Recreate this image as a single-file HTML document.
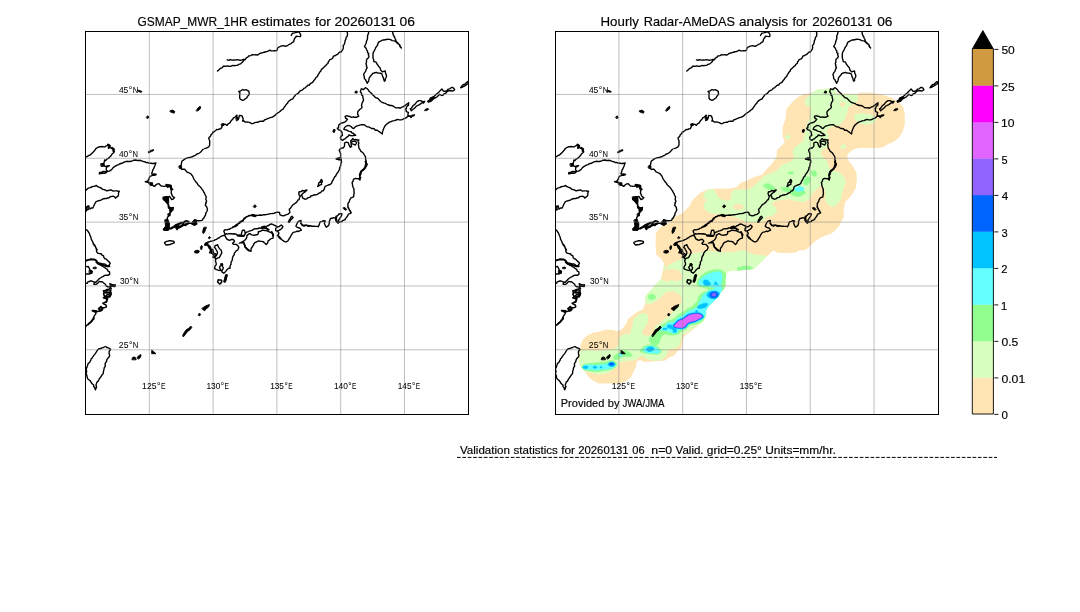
<!DOCTYPE html>
<html><head><meta charset="utf-8"><title>GSMAP validation</title>
<style>
html,body{margin:0;padding:0;background:#fff;}
body{width:1080px;height:612px;overflow:hidden;}
svg{display:block;}
text{font-family:"Liberation Sans",sans-serif;fill:#000;stroke:#000;stroke-width:0.16px;}
.tx{filter:grayscale(1);}
text.tk{stroke-width:0.05px;}
.coast path{stroke:#000;stroke-linejoin:round;stroke-linecap:round;}
</style></head><body>
<svg width="1080" height="612" viewBox="0 0 1080 612">
<rect width="1080" height="612" fill="#fff"/>
<defs><g id="coast" class="coast">
<path d="M137.5 90.6L138.9 91.7L140.9 92.3L142.1 91.7L140.7 90.9L138.6 90.3Z M333.4 131.5L333.7 130.0L334.6 129.4L334.9 130.4L334.3 132.0Z M336.2 158.4L338.4 158.0L341.1 158.7L341.1 160.0L338.4 159.8L336.9 159.3Z M343.3 207.8L345.1 207.6L346.7 209.6L346.0 210.3L344.2 209.4Z M252.2 214.4L254.9 214.7L256.7 215.8L255.3 216.8L252.8 216.2Z M253.4 206.2L254.9 204.7L256.4 206.2L254.9 207.8Z M220.8 263.7L222.4 263.4L223.0 265.0L221.6 265.8Z M203.8 227.6L202.7 231.0L203.0 233.6L204.5 232.4L205.6 229.5L206.4 227.6Z M208.4 237.6L209.6 236.5L210.7 237.6L209.6 238.7Z M194.9 251.0L197.1 250.2L199.2 250.8L199.0 252.4L197.1 253.2L195.0 252.8Z M200.8 249.1L200.4 247.3L201.6 245.4L202.3 246.1L202.1 248.4L201.4 249.6Z M204.5 244.7L205.6 242.8L207.5 242.4L208.2 243.9L206.7 245.4L205.1 245.6Z M146.4 117.2L147.6 115.8L149.0 117.0L147.8 118.6Z M170.3 110.7L172.7 110.1L174.8 111.5L174.1 113.2L172.1 112.5L170.6 112.0Z M196.4 110.3L198.2 107.7L200.2 106.3L200.7 108.0L199.0 110.1L197.0 111.1Z M148.4 151.8L150.8 150.4L153.5 149.6L153.7 150.6L151.4 151.6L149.0 152.8Z M236.1 117.8L238.1 117.2L238.5 119.6L236.7 120.8Z M221.3 124.1L223.7 123.4L224.6 124.9L222.5 126.1Z M332.9 131.4L333.7 129.3L335.1 129.7L334.5 132.0Z M179.2 166.0L180.8 165.3L181.9 166.9L181.0 168.7L179.4 168.2Z M163.2 198.0L168.6 198.0L168.7 202.9L166.8 203.3L165.0 200.7Z M170.3 208.2L173.4 207.3L172.6 210.4L170.8 211.3Z M168.1 213.8L170.3 213.6L170.2 215.8L168.4 215.8Z M165.0 219.8L167.7 218.9L169.6 223.8L169.3 228.7L167.7 230.4L164.3 230.2L163.2 229.1L165.4 226.4Z M192.1 222.0L194.3 219.8L196.1 220.7L197.0 223.8L194.8 225.6L192.6 224.7Z M101.0 163.6L104.1 163.4L104.4 166.0L101.4 166.4Z M149.0 182.7L152.6 182.7L152.7 185.3L150.8 185.6L149.2 184.4Z M163.2 196.9L168.1 196.4L168.6 201.3L165.4 201.8L163.7 200.0Z M169.4 207.6L173.0 207.6L172.6 210.7L170.3 211.6Z M89.4 270.3L92.4 271.0L92.0 273.3L89.6 273.3Z M93.3 267.6L95.4 267.0L96.7 267.9L95.4 268.8L93.5 268.6Z M85.4 369.4L86.6 369.8L86.9 372.4L85.6 372.8Z M132.0 359.4L132.4 357.7L133.9 356.9L135.5 357.6L136.1 359.4Z M137.2 357.7L138.3 356.1L140.6 354.5L141.1 355.4L140.2 357.7L138.7 358.9Z M152.0 350.3L156.0 353.7L152.0 353.7Z M202.0 308.4L205.4 306.1L209.4 304.5L208.9 306.5L206.3 309.1L204.6 310.7L202.8 309.5Z M182.8 335.0L184.3 332.4L186.1 329.8L188.7 328.3L190.8 326.0L191.8 327.4L190.0 329.8L187.4 331.7L185.5 334.3L183.5 336.7Z M198.5 314.4L199.4 313.1L200.6 314.3L199.7 315.9L198.7 315.5Z M424.6 110.3L425.7 109.0L428.0 108.4L428.7 109.3L426.9 110.4Z" fill="#000" stroke-width="0.90"/>
<path d="M217.5 71.1L218.2 70.4L219.8 68.9L220.9 68.2L222.4 67.7L223.3 66.1L225.7 66.3L227.5 65.8L229.0 66.3L230.5 66.4L232.9 65.4L233.9 65.7L236.5 65.4L237.6 65.3L238.8 64.3L240.6 63.8L241.8 62.8L242.8 61.8L243.8 60.2L245.3 59.5L246.3 57.9L247.8 57.2L248.6 56.0L250.7 55.6L252.5 54.6L254.2 54.9L255.5 54.8L257.8 55.0L258.8 54.3L259.7 53.4L261.7 53.0L262.5 52.6L264.4 52.3L265.5 51.7L267.1 51.6L268.5 50.9L269.9 50.1L271.1 50.9L273.5 50.9L274.5 50.6L275.8 50.9L277.2 50.0L277.6 48.5L277.6 48.0L279.4 46.8L280.9 46.2L283.3 45.6L285.0 46.2L286.8 46.0L288.3 45.0L289.7 44.2L290.8 43.8L292.5 42.3L293.6 41.7L294.1 39.8L294.8 38.2L295.8 37.2L296.1 36.1L298.0 36.4L300.4 36.6L300.7 35.4L300.5 34.3L299.1 32.0L297.1 32.1L296.4 32.4L294.4 32.9L292.5 33.2L291.2 35.5 M227.2 59.8L229.2 60.3L230.0 59.6L232.3 60.2L233.7 59.9L235.3 60.1L236.9 59.7L238.4 59.9L240.3 60.3L242.1 59.8L243.3 59.4L245.0 59.4 M238.8 91.5L240.7 90.8L242.7 89.5L244.0 90.2L246.0 89.7L247.8 90.6L248.9 91.4L249.0 92.3L249.3 94.1L248.3 95.5L247.5 96.4L246.7 98.0L245.4 98.7L244.4 99.6L242.8 100.4L241.6 99.8L240.2 99.1L239.7 97.9L239.7 95.8L239.7 94.2L240.0 92.9Z M287.7 102.7L288.6 101.4L289.9 100.4L290.8 99.7L292.8 98.8L293.8 97.1L294.8 96.0L295.7 94.6L296.9 94.2L298.6 92.9L299.8 91.2L300.8 90.6L302.6 89.9L304.1 88.2L305.3 87.8L306.6 86.4L307.8 85.3L309.4 85.1L310.2 83.6L311.7 82.8L312.9 82.1L313.7 80.7L315.0 79.3L315.8 77.8L317.6 76.2L317.7 75.4L318.7 73.9L319.6 72.3L320.9 71.0L321.2 69.8L322.2 68.7L323.1 68.1L324.2 66.9L326.0 65.5L326.4 64.5L327.9 63.5L328.3 62.0L329.2 60.7L329.9 59.6L331.9 58.8L332.9 57.8L333.5 56.1L335.5 55.5L336.5 54.8L338.1 53.8L339.3 52.4L341.0 51.7 M341.0 52.1L342.0 50.7L343.0 49.2L343.4 47.6L343.1 45.6L344.4 44.2L344.9 42.1L345.1 40.6L345.8 39.4L346.2 37.3L347.3 36.1L347.5 33.7L347.2 31.9L346.3 31.0 M368.5 31.0L368.6 33.1L368.1 34.3L367.4 36.5L367.6 38.3L367.0 39.9L366.4 41.5L366.3 42.8L365.4 44.8L364.4 46.5L365.9 48.0L366.8 50.1L367.5 51.0L367.5 52.6L368.8 53.5L368.3 54.7L369.0 56.3L368.5 57.7L367.0 59.0L366.4 60.4L366.6 61.8L366.0 63.8L366.6 65.4L366.3 66.2L367.2 67.6L366.3 69.1L365.6 71.3L364.2 73.2L363.6 74.6L364.2 76.3L364.4 78.7L365.5 79.5L366.1 80.9L367.2 83.3L368.2 81.7L368.7 80.7L368.9 79.8L369.2 77.9L370.3 76.5L371.3 75.2L372.0 74.6L372.6 73.4L374.1 73.0L376.2 72.3L377.4 73.0L378.8 73.1L380.6 73.3L381.9 73.9L382.2 74.7L382.7 76.7L383.4 77.9L383.9 80.0L384.4 81.3L385.4 80.3L385.2 79.0L386.0 77.5L386.5 76.5L386.3 74.7L385.6 73.5L385.2 70.9L383.8 71.3L382.4 71.9L381.9 71.4L380.5 69.7L380.1 67.9L379.1 66.8L378.0 65.3L377.0 64.0L376.0 62.0L373.9 61.6L373.6 59.4L373.0 57.9L373.0 55.9L373.0 54.0L373.3 52.4L374.5 50.4L375.3 48.8L375.6 47.7L376.7 46.4L377.7 44.6L378.0 43.2L379.1 41.8L381.1 40.8L382.6 40.0L384.0 40.0L385.1 39.7L387.6 39.3L389.3 39.4L390.6 39.7L392.2 40.6L394.8 40.9L395.9 41.7L397.0 42.9L398.3 44.0L399.5 44.7L399.9 46.5L401.3 47.9L400.2 46.4L399.9 45.1L399.2 44.4L397.8 43.1L396.0 41.3L395.7 39.7L395.0 38.5L394.3 36.5L393.5 35.5L393.0 34.0L392.7 32.3L392.6 31.0 M365.4 87.6L367.0 88.5L368.3 89.9L369.0 91.2L370.2 92.3L371.4 93.2L372.9 95.0L373.8 95.7L375.4 97.5L376.5 97.9L378.0 98.5L379.0 99.6L379.5 100.3L381.1 101.8L382.5 102.5L384.3 103.2L385.7 103.5L386.8 104.3L388.8 105.0L390.0 105.5L391.6 105.5L393.4 106.2L394.1 106.7L395.5 107.7L396.9 107.9L398.9 107.7L400.1 108.3L401.7 107.2L403.4 106.6L405.3 105.4L406.8 104.1L407.7 103.6L408.7 102.8L408.5 105.1L407.5 105.9L406.5 107.1L406.4 108.4L405.8 108.9L406.3 111.5L407.1 112.0L408.4 112.3L407.8 115.1L409.7 116.0L411.4 116.0L412.6 115.1L414.5 115.0L413.6 115.8L412.0 116.2L410.9 117.5L410.1 116.4L407.9 116.2L406.6 117.4L405.6 118.2L403.6 118.8L402.5 119.4L401.5 119.9L399.3 119.9L397.7 119.4L396.1 120.0L394.6 120.6L392.7 120.9L391.0 121.7L389.8 121.9L388.7 122.7L387.6 123.4L386.0 124.8L384.8 126.3L383.8 128.3L383.4 129.2L383.1 130.3L382.5 131.7L382.3 134.0L380.7 132.8L379.2 131.6L378.2 131.0L377.4 130.1L375.3 130.3L374.5 129.0L373.1 128.4L371.8 128.7L370.6 127.8L368.6 126.9L367.0 126.7L365.9 126.0L364.2 124.7L363.2 124.7L361.9 124.7L360.5 124.9L358.2 125.6L356.5 126.0L355.1 127.0L354.2 128.1L353.7 128.6L352.2 127.8L351.1 126.5L349.3 125.6L347.9 125.4L347.0 125.9L346.1 126.2L344.8 127.2L343.8 129.3L345.5 129.8L346.7 130.0L347.5 130.7L349.2 131.4L351.3 131.7L351.9 133.1L353.3 133.3L353.9 133.9L355.7 135.2L353.5 135.5L352.7 135.7L350.5 135.5L348.8 134.9L348.4 136.1L346.9 137.1L345.9 138.1L345.4 138.6L343.8 139.4L342.7 140.3L340.9 139.3L340.3 137.5L341.4 136.0L342.5 135.3L342.2 133.9L342.0 132.3L340.9 130.9L339.7 130.2L338.2 129.6L337.3 128.2L338.6 127.8L338.5 126.2L338.9 124.9L339.9 124.1L341.3 123.1L343.6 122.5L345.2 121.8L346.6 120.4L347.4 119.3L345.6 118.2L345.1 116.3L346.9 115.7L348.4 116.3L350.0 116.5L351.4 117.3L353.4 116.8L354.5 117.3L356.3 117.3L357.2 116.8L358.7 116.1L357.7 114.2L357.7 111.9L358.8 110.4L359.7 109.5L361.5 108.2L362.1 107.0L361.5 105.2L362.0 103.6L362.4 102.3L363.5 100.7L363.4 99.3L362.9 97.4L362.8 96.0L361.6 94.9L361.6 93.5L360.3 91.6L360.7 90.7L361.3 88.8L363.7 89.5Z M355.1 92.5L356.1 91.2L357.1 91.8L356.8 92.8Z M333.1 179.8L333.9 178.4L334.7 176.8L335.6 176.1L336.4 174.3L337.1 173.3L337.8 172.6L339.0 170.3L339.5 169.4L339.7 167.6L340.4 166.3L340.8 165.0L340.8 163.6L341.5 162.2L341.2 159.8L338.4 159.6L338.0 159.2L336.3 159.1L337.5 158.5L338.8 157.8L340.9 158.3L340.5 156.3L340.6 154.6L340.7 153.8L339.9 152.0L339.2 150.1L339.8 149.4L340.8 148.3L342.2 147.9L343.0 148.1L344.4 146.4L344.6 144.9L344.5 143.0L346.2 142.1L348.2 142.6L349.2 145.4L350.2 147.3L351.6 146.4L351.1 145.3L351.2 143.6L353.2 144.2L355.4 145.0L356.6 143.0L355.5 141.1L354.6 141.4L352.8 141.2L350.9 142.9L350.8 140.6L351.9 139.8L352.7 138.6L354.2 139.8L355.7 139.4L357.1 140.0L358.9 139.9L358.1 141.5L358.9 143.1L358.4 144.6L358.7 146.4L359.1 148.6L360.0 149.5L360.8 151.3L361.7 151.8L363.4 153.3L364.4 155.0L365.4 156.6L365.7 158.4L365.6 159.7L366.2 161.0L366.0 162.8L367.1 164.6L366.7 165.6L365.7 167.0L364.5 169.0L363.1 169.9L361.8 170.8L360.8 171.9L360.9 174.1L359.7 175.6L359.8 176.9L359.4 178.6L360.7 177.3L360.1 179.0L359.9 180.0L358.5 178.8L357.4 178.6L355.4 178.4L354.3 178.7L353.3 179.7L353.1 181.2L352.0 182.6L352.5 184.0L352.5 185.5L353.2 187.5L354.0 189.1L353.9 190.6L354.1 192.3L354.1 193.5L353.7 195.5L353.6 196.9L351.6 197.6L351.2 197.6L349.8 199.6L349.3 201.7L348.5 202.6L347.9 203.9L348.0 205.9L347.7 207.1L348.6 207.9L349.0 209.3L350.0 210.8L350.0 211.3L351.3 212.7 M278.0 235.6L279.1 237.7L280.7 239.0L281.5 239.5L283.2 240.6L284.1 241.4L285.3 241.9L286.2 241.9L287.8 241.0L288.2 240.3L289.4 238.3L290.3 237.3L290.8 236.0L291.7 234.4L293.2 232.4L295.5 231.8L297.0 231.1L298.1 231.5L299.6 230.8L301.4 230.2L299.9 228.2L299.3 228.0L297.4 227.4L295.9 226.3L296.7 224.2L297.5 222.7L298.2 221.7L299.7 220.8L301.0 220.4L300.9 222.5L301.0 223.7L302.4 225.6L304.4 225.2L306.1 225.2L308.0 226.0L308.7 225.4L310.8 225.9L311.6 226.2L314.0 226.1L315.3 226.4L317.7 226.4L318.2 226.8L319.2 224.9L319.6 223.3L320.2 221.8L322.3 221.3L323.0 220.8L325.3 221.0L324.6 222.2L324.4 223.5L325.4 225.8L326.3 227.2L328.7 225.4L329.3 223.3L329.2 222.2L329.5 221.0L329.9 220.0L330.5 218.5L332.3 218.3L333.4 217.7L335.8 218.3L335.9 220.5L337.0 221.3L336.6 219.6L336.4 218.8L336.6 217.0L337.2 215.8L338.1 215.2L338.9 214.0L340.5 213.7L341.8 213.7L341.8 214.9L341.3 216.1L339.8 218.4L338.9 219.7L338.7 220.5L338.3 222.6L340.4 221.9L342.1 221.5L342.4 220.6L345.4 219.7L345.2 218.9L346.1 217.9L347.4 216.3L348.4 214.1L349.9 213.6L351.0 212.9L350.3 210.7L349.6 210.3L349.1 209.0L348.4 208.1L348.1 206.4 M288.4 222.2L289.5 219.5L290.3 218.6L291.1 216.8L292.0 216.3L293.2 217.6L291.5 219.3L290.5 220.3L289.2 222.4Z M234.0 226.4L234.9 225.8L236.2 224.7L237.5 224.2L238.6 223.2L239.6 222.0L241.1 221.1L242.2 220.5L243.4 219.7L244.0 218.2L245.5 217.6L246.2 216.8L248.1 216.4L248.9 215.4L250.0 215.5L251.7 215.4L253.4 215.5L254.9 215.9L256.6 215.3L257.8 215.4L260.2 215.0L261.7 215.3L263.0 214.8L265.3 214.8L266.8 214.4L268.3 214.2L270.5 213.6L272.1 213.6L274.3 213.2L275.4 212.6L277.2 212.3L279.5 212.4L280.0 214.8L281.5 215.4L282.7 215.9L284.7 215.5L285.7 214.9L287.7 214.4L289.0 213.3L289.9 212.5L289.7 211.3L289.2 209.4L290.5 208.3L290.6 207.8L292.3 205.6L293.6 204.3L294.6 203.8L296.4 202.4L297.1 201.5L298.0 200.0L299.1 199.6L299.5 197.7L300.3 196.2L299.3 195.4L298.8 193.7L299.0 192.0L301.3 191.5L302.3 190.5L304.1 191.0L305.3 190.5L306.9 190.0L305.5 191.6L303.4 193.0L302.6 193.8L301.2 195.2L302.3 196.3L302.7 198.1L304.4 198.9L305.0 199.3L306.5 198.9L308.2 197.6L309.9 197.4L310.9 196.0L312.6 195.5L314.0 195.0L315.9 194.8L317.2 194.3L319.6 192.9L320.8 192.5L321.7 191.0L323.1 190.8L324.1 189.5L324.4 188.2L325.2 186.3L326.9 185.7L328.2 185.0L330.2 184.5L331.9 182.8L332.0 181.6L333.1 180.0 M317.7 186.2L318.6 184.4L318.6 183.2L320.1 181.8L320.7 180.4L321.4 179.4L322.1 180.4L322.4 181.8L321.4 182.7L321.6 184.4L319.8 185.2L318.0 186.5Z M318.9 182.9L321.1 181.7L321.6 183.8 M225.3 236.2L226.0 237.6L226.6 238.9L227.5 239.5L228.7 240.0L230.2 240.2L231.3 239.5L233.2 239.4L234.5 241.2L234.0 242.0L232.6 243.3L233.5 244.4L235.3 244.4L236.6 244.5L238.3 246.3L238.8 247.6L237.8 250.0L236.1 250.9L235.4 252.0L234.2 253.4L234.2 254.8L233.1 256.2L232.4 258.0L232.4 260.1L231.6 261.2L231.0 262.6L231.1 264.3L230.2 265.4L230.0 268.2L228.7 268.3L227.2 269.5L225.7 271.4L223.8 273.2L221.9 272.0L222.2 270.1L223.0 269.0L223.3 267.7L222.5 266.2L222.2 264.2L220.5 265.7L219.4 267.6L220.2 268.8L221.2 270.6L218.3 270.2L216.4 269.6L214.6 268.7L215.0 266.1L216.2 264.8L216.2 263.9L216.1 262.8L215.4 261.3L215.8 259.4L214.6 257.4L212.9 257.2L213.5 256.0L213.5 255.0L211.6 252.9L209.6 252.9L210.7 250.4L210.1 248.9L209.0 248.0L208.4 246.8L208.2 245.4L206.2 244.2L204.8 244.2L205.7 243.5L206.8 242.6L208.5 242.0L210.4 241.3L212.5 240.9L214.3 240.3L215.4 239.6L216.4 239.3L217.5 238.7L219.7 237.3L221.1 236.3L222.8 235.6L224.4 235.3Z M215.3 245.4L216.7 245.2L217.6 244.7L218.3 246.7L219.0 247.9L219.8 248.9L221.0 250.1L221.5 251.3L221.8 252.8L220.5 255.4L220.1 256.1L219.2 257.7L217.8 258.0L217.4 258.1L215.6 259.1 M215.3 245.4L214.4 247.6L215.4 248.1L216.0 249.6L216.7 250.6L217.6 252.3L217.0 254.7L214.9 255.9L213.8 256.9 M210.4 250.6L212.1 249.2L213.1 250.3L213.7 252.7L213.0 253.9 M213.4 254.7L215.4 253.7L216.8 254.8L215.2 257.2L214.1 257.6 M234.9 226.5L233.4 227.1L231.5 228.1L230.6 228.3L229.6 229.2L228.5 229.3L226.8 229.9L225.0 229.7L223.8 230.9L224.6 233.2L225.1 234.3L224.9 235.4 M232.7 227.0L234.2 226.8L236.4 226.0L237.4 225.2L237.8 224.2L239.1 223.5L240.4 222.5L241.6 221.6L243.0 221.1L243.6 219.8L245.2 218.3L245.7 217.3L247.6 216.5L248.4 215.9L249.8 215.8L251.0 215.3L252.7 215.0 M225.0 235.0L226.2 233.6L227.4 234.1L229.0 233.7L230.1 233.7L231.4 233.6L232.8 234.0L233.8 233.8L236.2 234.3L238.1 235.8L239.3 235.2L240.0 235.7L241.9 236.0L244.0 235.7L245.1 234.4L245.0 232.4L244.4 230.3L242.6 230.1L242.0 231.3L241.5 233.6L241.0 235.7 M245.3 233.3L246.1 232.6L247.1 231.9L248.6 231.6L249.4 230.9L250.9 230.7L252.5 230.2L253.9 228.9L255.9 228.7L257.9 228.7L259.3 227.8L260.9 228.3L262.1 226.8L263.1 226.9L264.3 226.1L266.1 227.1L267.1 225.8L268.4 225.6L269.8 224.6L270.5 224.2L271.9 224.0L273.6 224.9L274.1 225.2L276.2 226.0L277.6 227.0L279.3 226.4L281.3 225.0L282.9 226.5L282.1 228.1L281.1 229.1L279.5 230.1L279.0 230.4L276.4 231.0L277.8 231.3L278.9 233.1L278.5 234.7L277.3 235.3L279.6 236.8L280.7 238.4L281.3 239.0 M276.7 231.0L275.6 230.3L275.9 228.1L277.7 227.0 M239.2 243.1L240.2 243.0L241.7 242.0L243.5 241.1L244.8 240.2L245.9 239.1L246.8 237.3L247.0 235.4L248.4 234.4L249.1 233.8L250.3 233.6L251.1 234.7L252.6 235.1L254.9 235.2L255.8 234.8L257.3 234.7L258.3 233.6L258.3 231.8L259.9 231.5L260.7 231.1L262.6 230.2L263.3 230.2L264.7 230.5L266.0 230.6L266.9 230.7L268.6 231.7L269.9 232.1L271.4 232.7L272.5 233.8L272.6 234.8L273.1 236.7L273.0 238.2L271.0 238.7L269.7 239.6L269.1 240.3L268.1 240.9L267.5 243.2L266.1 244.5L265.5 243.8L264.3 242.8L263.4 241.8L261.4 241.4L260.1 241.2L258.8 240.9L257.6 241.4L256.6 241.9L255.1 242.5L253.9 243.7L253.6 244.9L252.4 246.7L251.6 247.7L251.0 249.2L251.0 251.4L249.1 250.7L247.9 249.9L247.2 249.6L246.3 247.7L245.3 247.4L244.8 245.7L244.3 244.0L244.1 242.6L241.3 242.7L240.6 242.9Z M85.0 157.3L85.8 156.8L87.2 156.6L89.0 155.3L89.9 155.4L91.2 154.0L92.8 152.4L94.2 151.1L95.1 149.8L96.0 148.5L97.4 147.7L99.2 146.8L100.3 146.7L102.1 146.5L103.7 146.9L104.9 146.9L106.4 145.8L108.6 145.3L109.3 147.2L110.9 148.0L113.0 148.8L113.4 150.0L114.5 151.8L113.2 153.1L111.9 154.3L110.9 155.9L110.6 156.1L109.5 157.4L108.3 158.4L106.8 159.1L105.7 160.5 M287.7 103.0L286.9 103.8L285.5 105.4L284.9 106.5L284.1 107.4L283.4 108.8L281.5 110.0L280.7 110.9L279.3 112.0L277.4 113.2L276.0 114.3L274.9 115.4L273.5 116.5L272.0 117.2L270.3 117.6L269.0 118.2L267.0 118.9L266.1 119.3L264.3 120.0L263.5 121.3L261.7 121.3L259.4 121.4L258.2 122.2L256.5 122.3L254.7 122.7L253.3 123.4L251.9 123.8L250.9 123.1L250.0 122.6L248.2 122.1L247.1 122.0L245.0 122.1L244.0 121.0L242.6 121.1L243.0 120.0L243.2 118.6L242.5 117.4L242.3 116.2L241.5 115.8L239.3 115.4L239.1 116.8L238.7 118.4L237.9 119.7L237.2 118.2L236.7 116.9L237.0 115.1L235.1 117.1L233.7 117.6L232.6 119.3L231.4 120.4L230.6 121.6L229.9 122.9L228.1 123.8L227.1 125.3L225.7 124.4L224.4 124.2L222.8 124.5L222.1 125.4L221.9 126.9L221.0 128.6L219.4 129.0L218.0 129.6L216.7 129.5L215.5 130.7L214.6 131.3L213.0 132.6 M213.0 132.0L212.4 133.5L211.0 134.8L210.3 136.6L209.4 137.1L208.7 138.2L209.6 140.5L209.8 141.8L209.6 143.7L209.7 145.0L209.0 146.5L208.2 147.2L206.4 148.1L204.7 148.6 M203.2 149.3L201.9 150.6L201.0 151.8L200.1 152.5L198.3 153.7L196.9 154.0L195.4 155.3L193.8 155.9L192.5 156.8L191.0 157.1L189.5 157.5L188.2 157.6L186.2 158.3L184.7 159.0L183.4 160.2L182.0 161.0L181.5 163.1L181.2 165.2L180.0 166.2L181.0 167.9L181.8 169.5L182.8 169.2L184.6 169.1L185.9 170.7L187.0 172.2L188.4 172.5L190.0 173.3L191.0 173.9L191.7 175.1L192.6 175.9L193.2 177.5L194.0 179.3L195.4 181.1L195.7 181.7L197.2 183.3L197.7 184.6L198.4 185.3L199.2 186.0L200.7 187.3L201.8 188.9L202.3 189.7L203.1 190.6L204.0 192.5L204.9 193.8L205.1 195.0L206.3 196.9L205.8 199.2L206.6 201.0L206.4 201.7L205.7 203.3 M205.7 203.3L206.1 201.9L206.1 202.9L205.3 205.3L206.5 206.4L207.1 208.1L207.5 209.6L206.8 211.5L205.7 213.3L205.6 215.0L204.9 215.9L204.0 217.9L203.0 218.5L202.6 219.8L201.9 220.4L199.3 220.7L198.2 220.8L196.0 220.1L194.4 219.7L196.4 221.1L196.4 222.2L196.6 224.2L194.2 224.5L193.2 224.3L191.3 223.5L190.4 223.2L189.0 223.1L187.5 223.6L185.6 224.1L184.6 224.9L183.2 225.6L181.8 226.1L180.6 226.9L179.5 227.7L177.9 227.3L177.3 225.9L175.8 226.5L175.1 226.5L173.5 227.1L172.0 227.9L171.0 228.8L169.5 228.5L167.9 230.3L165.9 229.8L165.2 230.1L163.4 229.9L164.8 228.3L166.2 227.3L166.6 226.0L167.5 224.4L167.4 222.5L166.8 220.7L167.3 219.1L167.5 217.1L168.4 216.5L169.3 214.6L169.4 213.1L170.0 212.3L170.7 210.6L171.3 209.2L170.3 208.4L169.5 206.9L168.4 205.3L167.4 203.5L166.8 202.1L165.7 200.1L164.6 198.9 M174.3 242.1L174.1 242.9L172.6 243.5L171.4 243.9L170.0 244.5L168.2 244.7L166.2 245.0L165.2 243.9L164.7 243.3L164.5 242.5L165.7 241.8L166.8 241.3L168.8 240.8L170.8 240.7L172.7 241.1L173.6 241.2Z M104.6 160.0L104.5 161.2L103.8 163.2L103.1 164.4L102.6 165.2L104.0 165.9L105.9 166.5L107.5 166.0L109.4 165.7L108.0 166.6L106.5 167.2L106.2 170.0L107.8 171.3L106.5 171.6L104.6 171.5L103.3 171.4L101.8 172.2L99.6 172.5L99.3 173.8L101.0 173.5L102.5 173.3L104.4 173.2L105.6 173.1L106.8 172.0L107.7 171.4L109.4 171.1L111.2 169.9L112.0 169.2L113.1 167.7L114.1 166.9L116.2 165.7L117.1 165.2L118.7 164.6L119.9 163.7L122.0 163.3L122.8 162.9L125.2 161.7L126.9 161.3L128.0 161.5L130.0 161.5L131.1 161.3L132.8 160.7L133.8 160.2L135.7 160.0L137.5 160.5L138.5 160.5L140.4 160.3L141.6 160.8L143.6 161.6L144.9 161.8L146.1 162.6L147.4 162.5L149.2 163.1L150.8 163.2L152.4 163.5L153.5 163.5L155.9 162.9L155.2 164.5L155.0 165.4L154.1 167.5L153.5 169.0L152.8 169.9L152.5 171.3L151.6 173.9L152.8 174.1L154.5 173.9L156.2 174.5L154.4 175.3L152.8 175.1L151.4 175.8L150.3 176.1L149.4 177.5L148.9 179.2L148.0 180.7L147.2 181.2L145.3 181.7L147.7 182.2L148.7 182.1L150.2 183.1L150.6 183.7L152.1 185.0L154.3 186.4L155.4 185.7L156.0 184.6L157.6 183.9L159.0 183.8L159.7 184.5L161.2 186.1L162.6 186.1L163.8 186.4L165.1 186.2L166.6 185.8L167.4 187.3L168.8 186.6L170.4 186.7L170.7 188.1L172.8 189.3L171.5 190.3L171.2 192.2L171.3 193.4L172.6 196.2L173.6 197.2L174.5 197.6L173.5 198.8L171.7 199.5L170.4 197.6L169.6 196.5L167.5 197.3L166.2 196.7L165.1 197.6L163.4 199.5L165.4 200.0L166.6 202.1L167.0 203.1L168.6 204.1L168.2 206.4L168.6 208.0L170.2 208.1L171.8 208.6L173.1 207.6L172.8 209.9L171.8 210.7L170.9 212.1L169.9 213.3 M85.9 190.2L87.2 189.1L88.1 188.2L90.2 187.6L91.5 187.0L93.3 186.4L94.6 186.4L96.4 185.4L97.7 186.7L99.5 187.4L101.1 188.0L102.4 189.3L104.0 189.6L105.3 190.0L106.7 190.9L108.2 190.5L109.3 190.3L110.9 189.8L111.9 190.4L113.3 191.1L114.9 190.9L116.6 190.9L118.3 191.2L119.3 191.3L118.5 193.0L118.5 194.5L118.3 195.9L117.4 196.5L115.4 198.1L115.0 197.2L113.0 196.2L112.1 196.4L110.1 196.8L109.2 197.7L107.6 198.0L106.3 198.6L105.0 198.5L102.7 199.0L101.0 200.1L99.5 200.5L97.3 201.2L95.9 201.8L95.4 202.7L94.3 204.8L93.7 206.3L92.9 208.0L91.2 208.0L90.1 208.9L89.2 207.6L88.7 206.4L87.8 206.8L86.2 207.8L86.4 208.6L86.5 210.2L85.7 211.7 M86.2 207.1L87.4 206.2L88.9 205.8L89.0 207.6L89.4 208.1L88.6 209.1L87.5 209.8L86.9 208.5Z M85.4 229.8L86.9 230.0L87.7 230.8L88.4 232.0L89.5 233.6L89.9 235.3L90.9 237.2L91.2 239.1L92.1 240.8L93.2 243.1L93.6 243.9L94.3 245.6L95.4 246.4L95.8 247.6L97.2 249.8 M93.1 244.0L94.4 244.7L95.4 246.4L95.7 247.6L96.4 248.9L96.6 251.7L97.7 253.1L99.3 253.5L101.2 253.8L101.7 254.9L103.6 255.8L103.8 257.4L105.0 258.8L106.0 258.9L106.9 259.8L108.1 261.1L109.4 262.1L110.2 263.3L108.7 265.7L106.8 265.5L105.6 264.4L104.2 263.9L102.4 263.9L100.9 263.3L99.4 263.2L98.0 262.5 M96.1 262.1L97.4 263.1L99.3 264.4L100.4 265.0L101.9 265.9L103.6 267.0L105.0 267.7L105.5 268.2L107.6 269.6L107.8 271.0L109.5 271.9L109.7 274.1L108.4 275.2L106.3 275.3L104.6 275.4L103.3 276.4L102.2 276.8L101.2 277.5L100.0 278.2L98.7 279.3L97.8 280.3L95.9 282.2L94.5 282.0L93.1 281.6L91.3 280.8L90.5 281.0L88.7 281.6L87.9 281.9L87.3 283.3L85.4 283.3 M96.1 281.8L94.3 282.5L93.9 284.3L95.7 284.4L96.4 284.1L97.7 283.3L98.5 282.2L99.6 281.4L100.7 281.8L102.2 281.8L104.7 283.7L105.4 284.2L106.0 285.8L107.7 286.9L109.0 286.7L110.6 287.4L111.3 288.8 M109.9 283.6L112.4 284.8L114.0 285.0L115.2 284.8L115.0 286.5L112.5 286.2L110.4 285.8Z M85.4 266.2L87.0 266.7L88.3 266.5L89.4 268.6L89.9 269.6L90.8 270.6L92.1 271.6L91.6 273.2L89.2 274.0L86.6 274.0L85.4 274.2 M110.9 286.7L110.4 287.4L109.7 288.8L107.9 289.5L107.2 290.9L106.2 291.8L104.3 292.6L106.1 292.7L108.3 292.6L110.4 292.4L110.0 294.5L110.3 295.4L108.9 296.1L107.8 296.7L106.9 296.3L104.9 296.2L104.4 297.9L106.1 298.8L107.0 298.9L106.6 301.0L104.8 302.7L102.7 303.2L104.0 304.1L106.0 305.0L106.5 306.4L106.4 307.0L104.6 307.7L102.5 307.7L101.7 309.6L99.8 310.8L97.5 311.7L96.3 310.9L94.8 310.9L92.9 311.1L94.6 311.9L96.0 312.5L95.8 313.9L95.0 314.9L93.7 316.9L94.1 318.8L91.6 320.4L90.7 322.2L89.3 322.9L88.1 324.4L86.2 325.8L85.4 327.4 M105.4 346.5L106.2 346.9L106.9 347.5L108.2 347.8L109.5 348.3L110.6 349.5L109.2 351.2L109.1 353.7L109.7 355.5L109.1 356.9L108.8 357.3L107.4 358.7L106.6 360.4L106.7 361.1L105.4 363.2L105.0 364.1L105.4 365.9L104.2 367.8L104.0 369.3L103.4 371.6L103.2 373.6L101.8 375.2L101.1 376.5L99.9 378.1L99.1 379.2L98.2 381.1L97.0 382.0L96.3 384.1L96.0 385.0L96.6 387.0L96.1 387.9L95.3 389.9L94.7 387.3L93.7 386.7L93.7 385.0L92.1 383.8L90.9 382.0L90.4 381.1L89.5 380.3L87.9 378.9L87.4 378.0L87.0 376.0L86.5 374.4L85.9 372.4L86.3 370.9L86.0 369.5L86.9 367.2L87.4 366.0L88.2 363.4L89.4 362.7L90.2 361.2L91.0 359.8L91.1 358.8L92.0 358.2L92.8 356.8L94.0 355.1L95.4 353.6L95.7 353.0L96.7 351.3L97.2 350.5L98.1 349.3L99.2 348.7L100.5 348.5L102.0 347.9L103.4 347.5Z M428.8 101.1L429.6 100.1L430.3 98.2L432.1 97.3L433.4 97.1L435.3 95.3L436.1 94.3L438.3 92.8L439.2 91.6L440.4 90.5L441.8 88.9L443.4 91.0L445.3 91.4L446.9 90.6L448.1 89.2L449.9 88.8L451.4 87.5L452.4 87.4L453.6 88.1L454.6 89.7L452.8 91.0L451.1 90.8L449.5 90.7L448.1 91.0L447.2 91.6L445.7 93.2L443.5 94.1L443.2 95.1L441.7 95.5L439.6 94.3L438.4 95.5L437.1 96.7L435.7 97.7L433.9 98.5L432.4 99.8L431.6 100.9L430.1 101.5L428.5 101.8Z M410.2 108.8L411.2 108.4L411.9 107.4L413.2 105.5L414.5 104.7L415.6 103.4L417.1 101.6L418.1 101.0L419.0 100.6L420.7 100.6L422.1 101.5L423.6 101.8L424.7 101.3L423.5 103.1L422.0 102.7L420.8 103.6L419.6 104.6L418.4 105.1L416.6 106.0L415.4 107.3L414.2 108.5L412.8 109.4L411.3 110.7Z M460.7 87.8L461.4 86.6L463.4 84.5L464.9 84.1L465.8 83.1L467.8 81.5L468.5 83.6L467.4 84.1L466.1 84.9L464.6 86.0L463.1 86.6L462.7 87.1L461.2 87.6Z" fill="none" stroke-width="1.38"/>
<path d="M365.6 161.6L366.0 163.0L366.6 163.9L365.5 165.5L365.2 167.3L364.4 168.5L363.1 169.9L361.7 170.9L360.6 172.6L360.0 174.1L359.8 175.3 M208.2 245.4L209.4 246.2L210.3 247.3L210.5 248.7L211.5 250.7L211.9 252.8 M85.4 260.9L86.2 260.5L87.7 260.1L89.6 259.6L90.8 259.3L93.2 259.5L94.5 259.5L95.9 260.4L96.8 261.3L97.7 263.3L99.0 264.0L100.8 264.6L102.6 264.7L103.9 265.5L105.4 265.9L107.0 266.3L109.4 266.2 M98.8 308.6L100.0 308.0L100.8 306.7L102.4 308.5L102.4 309.2L101.7 310.2L100.0 310.7Z" fill="none" stroke-width="1.98"/>
<path d="M301.1 223.4L302.5 225.0L304.1 226.1L306.6 225.2L308.7 226.3L310.6 225.7" fill="none" stroke-width="1.43"/>
<path d="M336.1 216.4L335.8 217.6L335.7 218.9L336.4 221.3L337.1 222.2L338.1 223.0 M103.6 290.9L105.9 290.4L107.0 289.5L108.9 289.9L110.7 290.1L110.6 291.7L111.2 293.7L110.6 295.4L109.8 296.9L108.5 296.8L107.3 297.1L105.4 296.9L104.5 296.8L104.2 295.2L103.7 294.5L104.1 292.4Z M88.3 324.5L89.6 323.2L91.0 322.0L92.1 321.0L92.8 319.5L93.5 317.8" fill="none" stroke-width="1.65"/>
<path d="M237.7 235.5L239.1 235.7L240.5 235.6L242.2 235.8L243.7 235.8 M108.1 144.7L109.9 146.0L108.7 147.8 M112.0 148.0L113.8 149.2L113.4 151.0 M177.0 229.1L177.5 228.2L178.8 227.3 M166.3 184.9L167.6 185.2L169.4 185.4L170.9 185.8L171.0 187.3L171.2 189.3" fill="none" stroke-width="2.20"/>
<path d="M244.1 244.3L244.8 245.2L245.0 246.8L246.2 248.3L247.2 248.8L247.8 249.4L249.0 250.5" fill="none" stroke-width="1.76"/>
<path d="M262.0 228.3L262.8 228.2L264.0 227.6L265.7 228.3L266.6 228.3L267.2 228.9L268.7 229.7 M92.4 310.6L93.5 310.6L95.5 310.9L96.9 311.5" fill="none" stroke-width="1.87"/>
<path d="M271.7 231.7L272.6 233.4L273.3 234.2L273.3 235.7 M105.0 292.3L107.1 292.7L109.2 292.0L109.2 293.5L109.8 295.0L107.3 294.6L106.1 295.7 M103.5 297.8L105.0 298.3L107.7 298.2L107.2 299.7L106.6 301.9L104.4 302.4 M217.6 282.0L218.3 279.8L219.9 279.9L221.6 280.2L221.7 281.9L220.0 284.0L218.9 283.3Z" fill="none" stroke-width="1.54"/>
<path d="M171.2 228.2L172.5 227.5L173.8 227.0L174.6 226.1L176.3 224.9L178.6 224.0L180.0 223.5L180.7 222.8L182.3 222.8L183.3 222.9L184.6 221.7L186.0 221.1L188.6 221.8 M176.1 227.8L177.1 226.8L178.6 226.2L180.6 226.7L181.5 225.9L183.1 224.5L184.2 224.8L185.6 225.2L186.1 224.2L187.7 224.0" fill="none" stroke-width="2.09"/>
<path d="M226.5 275.4L226.1 276.4L225.6 277.8L225.5 279.4L224.6 281.3" fill="none" stroke-width="2.86"/>
<path d="M428.3 101.4L430.0 100.7L431.1 99.1L432.1 98.6L433.5 97.5" fill="none" stroke-width="2.42"/>
</g>
<clipPath id="cl"><rect x="86" y="32" width="382" height="382"/></clipPath>
<clipPath id="cr"><rect x="556" y="32" width="382" height="382"/></clipPath>
</defs>
<!-- left map -->
<g clip-path="url(#cl)"><use href="#coast"/></g>
<g stroke="#808080" stroke-opacity="0.5" stroke-width="1" fill="none"><line x1="149.33" y1="32" x2="149.33" y2="414"/><line x1="213.12" y1="32" x2="213.12" y2="414"/><line x1="276.90" y1="32" x2="276.90" y2="414"/><line x1="340.69" y1="32" x2="340.69" y2="414"/><line x1="404.47" y1="32" x2="404.47" y2="414"/><line x1="86.00" y1="349.79" x2="468.00" y2="349.79"/><line x1="86.00" y1="285.95" x2="468.00" y2="285.95"/><line x1="86.00" y1="222.12" x2="468.00" y2="222.12"/><line x1="86.00" y1="158.28" x2="468.00" y2="158.28"/><line x1="86.00" y1="94.45" x2="468.00" y2="94.45"/></g>
<!-- right map -->
<g clip-path="url(#cr)"><clipPath id="pc"><path d="M780.4 146.7L784.8 142.2L782.6 136.3L782.6 127.4L785.6 118.5L786.3 109.6L789.3 105.2L793.7 100.7L798.1 97.0L804.1 94.1L810.7 93.3L817.4 89.6L830.0 88.6L835.2 89.2L836.7 93.3L857.4 94.1L860.4 92.6L873.7 93.0L882.6 94.8L891.5 97.8L898.9 102.2L903.3 107.4L904.8 114.1L904.8 124.4L902.6 131.9L898.9 137.8L893.0 142.2L887.0 144.4L882.6 147.4L873.7 147.9L858.9 148.1L853.0 149.6L848.5 153.3L847.0 157.0L848.5 160.7L852.2 165.2L856.3 172.2L857.0 179.6L855.6 188.5L851.1 195.9L845.2 201.9L843.7 209.3L843.7 218.1L839.3 224.1L841.3 223.6L837.2 228.3L833.6 231.9L830.1 234.2L825.3 235.4L820.6 237.8L815.9 240.7L811.1 244.9L807.6 248.4L804.0 250.2L799.3 250.2L795.7 252.6L789.8 252.9L782.7 252.9L776.7 252.6L773.8 250.6L770.8 252.6L767.3 256.1L763.7 259.7L760.1 263.3L756.6 266.8L753.0 269.2L747.4 269.6L738.5 270.4L729.6 271.1L725.9 274.1L726.2 275.4L725.7 280.0L725.3 285.6L723.9 289.3L721.1 292.1L719.3 294.9L717.9 297.6L715.6 299.5L711.9 303.2L708.1 306.9L706.3 310.6L705.4 314.3L706.4 312.3L705.5 317.0L703.1 321.6L699.4 324.4L694.8 328.1L691.1 330.9L687.4 333.6L684.6 335.9L682.8 339.2L681.9 343.8L681.4 348.4L677.3 351.6L673.8 355.8L669.0 357.6L665.5 360.5L658.4 361.1L650.1 361.7L643.0 361.7L640.6 359.9L637.0 361.1L635.9 367.0L633.5 371.8L631.1 377.1L626.4 381.3L619.3 383.6L609.8 383.6L599.1 383.6L594.4 381.3L589.6 378.3L586.7 374.1L583.1 369.4L580.1 365.9L578.4 361.1L579.0 355.2L580.1 349.3L580.7 344.5L583.1 339.2L587.3 335.6L593.2 332.7L600.3 331.5L605.0 329.7L612.1 329.7L616.9 330.9L620.4 330.3L624.0 326.7L626.2 323.6L628.0 318.9L632.7 315.3L637.5 311.8L642.8 309.4L645.2 303.5L645.2 296.4L648.1 292.8L651.7 289.3L654.1 285.7L657.6 282.7L660.6 279.8L662.4 273.9L663.6 267.9L664.1 262.0L664.4 263.7L661.5 259.3L656.3 254.8L655.6 244.4L655.6 234.1L658.5 228.9L664.4 224.4L670.4 222.2L673.3 217.8L682.2 213.3L689.6 205.9L692.6 200.0L700.0 193.0L707.4 189.3L714.8 188.8L729.6 188.5L737.0 187.0L740.0 183.3L748.9 179.6L754.8 176.7L762.2 174.4L766.7 169.3L771.1 164.8L776.3 157.4L777.0 150.0Z"/></clipPath>
<path d="M780.4 146.7L784.8 142.2L782.6 136.3L782.6 127.4L785.6 118.5L786.3 109.6L789.3 105.2L793.7 100.7L798.1 97.0L804.1 94.1L810.7 93.3L817.4 89.6L830.0 88.6L835.2 89.2L836.7 93.3L857.4 94.1L860.4 92.6L873.7 93.0L882.6 94.8L891.5 97.8L898.9 102.2L903.3 107.4L904.8 114.1L904.8 124.4L902.6 131.9L898.9 137.8L893.0 142.2L887.0 144.4L882.6 147.4L873.7 147.9L858.9 148.1L853.0 149.6L848.5 153.3L847.0 157.0L848.5 160.7L852.2 165.2L856.3 172.2L857.0 179.6L855.6 188.5L851.1 195.9L845.2 201.9L843.7 209.3L843.7 218.1L839.3 224.1L841.3 223.6L837.2 228.3L833.6 231.9L830.1 234.2L825.3 235.4L820.6 237.8L815.9 240.7L811.1 244.9L807.6 248.4L804.0 250.2L799.3 250.2L795.7 252.6L789.8 252.9L782.7 252.9L776.7 252.6L773.8 250.6L770.8 252.6L767.3 256.1L763.7 259.7L760.1 263.3L756.6 266.8L753.0 269.2L747.4 269.6L738.5 270.4L729.6 271.1L725.9 274.1L726.2 275.4L725.7 280.0L725.3 285.6L723.9 289.3L721.1 292.1L719.3 294.9L717.9 297.6L715.6 299.5L711.9 303.2L708.1 306.9L706.3 310.6L705.4 314.3L706.4 312.3L705.5 317.0L703.1 321.6L699.4 324.4L694.8 328.1L691.1 330.9L687.4 333.6L684.6 335.9L682.8 339.2L681.9 343.8L681.4 348.4L677.3 351.6L673.8 355.8L669.0 357.6L665.5 360.5L658.4 361.1L650.1 361.7L643.0 361.7L640.6 359.9L637.0 361.1L635.9 367.0L633.5 371.8L631.1 377.1L626.4 381.3L619.3 383.6L609.8 383.6L599.1 383.6L594.4 381.3L589.6 378.3L586.7 374.1L583.1 369.4L580.1 365.9L578.4 361.1L579.0 355.2L580.1 349.3L580.7 344.5L583.1 339.2L587.3 335.6L593.2 332.7L600.3 331.5L605.0 329.7L612.1 329.7L616.9 330.9L620.4 330.3L624.0 326.7L626.2 323.6L628.0 318.9L632.7 315.3L637.5 311.8L642.8 309.4L645.2 303.5L645.2 296.4L648.1 292.8L651.7 289.3L654.1 285.7L657.6 282.7L660.6 279.8L662.4 273.9L663.6 267.9L664.1 262.0L664.4 263.7L661.5 259.3L656.3 254.8L655.6 244.4L655.6 234.1L658.5 228.9L664.4 224.4L670.4 222.2L673.3 217.8L682.2 213.3L689.6 205.9L692.6 200.0L700.0 193.0L707.4 189.3L714.8 188.8L729.6 188.5L737.0 187.0L740.0 183.3L748.9 179.6L754.8 176.7L762.2 174.4L766.7 169.3L771.1 164.8L776.3 157.4L777.0 150.0Z" fill="#ffe5b4"/>
<g clip-path="url(#pc)">
<path d="M810.7 94.1L817.4 88.9L830.0 87.7L835.2 88.9L836.4 94.4L856.7 94.4L857.7 100.0L853.7 103.7L848.5 106.7L847.0 111.9L845.6 117.0L842.6 121.5L839.6 124.4L833.7 125.9L829.3 127.4L826.3 130.4L827.8 134.4L828.3 141.1L827.2 146.7L822.2 149.4L820.0 153.3L823.3 157.8L826.7 161.1L827.8 165.6L830.0 168.9L833.3 171.1L838.9 172.2L843.3 176.7L845.6 182.2L841.5 193.0L840.7 198.9L837.8 203.3L833.3 207.0L828.9 204.8L825.2 200.4L825.9 194.4L824.4 188.5L821.5 184.8L817.0 188.5L812.6 193.0L808.9 198.9L803.7 201.9L796.3 201.1L788.9 198.9L780.0 199.6L774.1 201.1L771.1 204.8L775.6 207.8L777.0 212.2L772.6 215.2L766.7 216.7L762.2 221.1L756.3 222.3L745.9 221.9L743.0 219.6L737.0 217.4L729.6 215.2L722.2 213.7L714.8 213.7L708.9 212.2L704.4 208.5L704.4 203.3L707.4 199.6L703.7 197.4L704.4 193.0L708.9 189.3L714.1 190.0L716.3 194.4L719.3 198.9L727.4 201.1L731.9 198.9L731.1 193.7L734.1 190.0L741.5 190.0L748.9 189.3L754.8 185.6L759.3 181.1L762.2 178.9L763.3 176.7L767.8 174.4L774.4 172.2L778.9 168.9L781.1 165.6L786.7 163.3L792.2 161.1L794.4 156.7L792.8 152.2L794.4 147.8L798.9 144.4L803.3 141.1L807.8 136.7L803.3 139.3L805.6 131.9L807.0 124.4L810.0 118.5L810.7 112.6L811.5 106.7L807.0 105.9L804.8 102.2L807.0 97.8Z M854.4 114.8L861.9 113.3L870.7 114.8L876.7 118.5L873.7 123.0L866.3 124.4L858.9 123.0L855.2 119.3Z M790.3 137.0L790.0 138.1L789.0 138.8L787.8 139.1L786.5 138.8L785.6 138.1L785.3 137.0L785.6 136.0L786.5 135.2L787.8 135.0L789.0 135.2L790.0 136.0Z M845.7 146.7L845.4 147.7L844.5 148.5L843.3 148.7L842.1 148.5L841.3 147.7L841.0 146.7L841.3 145.6L842.1 144.9L843.3 144.6L844.5 144.9L845.4 145.6Z M665.9 269.6L668.9 265.2L674.8 262.2L682.2 259.3L685.2 255.6L691.1 254.1L697.0 253.3L703.0 251.9L708.9 251.1L717.8 251.9L726.7 252.6L735.6 251.9L741.5 250.4L744.7 250.2L749.5 253.2L755.4 255.0L761.3 255.6L766.7 256.1L768.4 259.1L760.1 265.6L753.0 271.0L747.4 271.1L738.5 271.9L730.4 272.3L727.4 274.8L727.1 275.4L726.7 280.0L726.2 285.6L724.8 289.8L722.0 292.5L720.2 295.3L718.8 298.1L716.5 299.9L712.8 303.6L709.1 307.4L707.2 311.1L706.3 314.3L707.3 312.8L706.4 317.0L704.1 322.1L699.4 324.6L694.8 326.7L690.2 329.9L685.6 332.9L682.3 335.0L680.7 339.2L680.9 338.6L679.7 344.5L676.1 348.1L671.4 348.7L667.3 350.4L666.7 354.0L664.3 357.6L660.7 359.9L654.8 360.2L650.1 359.9L645.3 358.1L643.0 355.8L639.4 356.4L637.0 358.7L633.5 359.9L628.7 360.5L624.0 361.1L619.3 362.3L616.9 367.0L613.3 369.4L609.8 371.8L605.0 373.6L599.1 374.1L593.2 373.0L587.3 371.8L583.7 369.4L580.7 365.9L579.0 361.1L579.6 355.2L580.7 350.4L589.6 350.4L595.6 351.0L601.5 350.4L607.4 349.9L612.1 349.9L616.9 347.5L619.3 343.3L619.3 338.0L622.8 335.0L629.9 333.9L632.3 327.9L633.5 322.0L632.7 320.1L635.1 317.7L639.9 314.1L645.8 313.6L648.1 317.7L647.0 323.6L643.4 328.4L641.7 332.6L644.1 335.6L648.9 336.2L652.4 333.9L654.8 329.1L655.3 326.6L660.6 323.6L662.4 320.3L667.1 317.7L671.9 314.1L674.5 309.4L679.0 307.0L681.6 302.3L681.9 297.6L679.0 293.4L673.0 291.0L667.1 291.6L663.0 294.9L658.8 298.7L654.1 302.3L648.7 304.1L645.5 302.9L644.0 296.4L647.0 291.6L656.4 279.8L660.6 267.9L662.4 260.8Z" fill="#d9ffc0" stroke="#d9ffc0" stroke-width="0.6" stroke-linejoin="round"/>
<path d="M845.0 104.4L844.6 105.5L843.8 106.2L842.6 106.5L841.4 106.2L840.5 105.5L840.2 104.4L840.5 103.4L841.4 102.6L842.6 102.4L843.8 102.6L844.6 103.4Z M733.3 205.6L737.0 204.1L742.2 205.1L743.3 208.1L739.3 209.6L734.4 209.0Z M661.8 269.1L667.1 270.3L671.9 269.1L679.0 270.9L681.9 275.0L681.3 279.8L676.6 281.0L671.9 279.8L667.1 281.6L662.4 279.8L660.0 273.9Z" fill="#ffe5b4" stroke="#ffe5b4" stroke-width="0.6" stroke-linejoin="round"/>
<path d="M763.7 184.8L768.1 183.3L774.1 187.0L775.6 189.3L771.1 190.0L766.7 188.5L763.7 186.3Z M788.1 172.2L792.6 171.5L793.6 173.7L788.9 174.1Z M780.7 187.8L787.4 187.0L793.3 190.0L796.3 189.3L803.7 190.0L805.9 193.0L802.2 195.2L797.8 196.7L792.6 195.2L788.9 192.2L783.0 190.7Z M803.7 179.6L807.4 176.7L811.1 178.1L809.6 182.6L806.7 185.6L803.7 184.1Z M811.1 171.5L815.6 170.7L817.0 174.4L814.8 176.7L811.9 175.2Z M739.3 268.9L743.0 266.7L748.9 266.4L752.6 268.1L748.9 269.9L741.5 270.4Z M737.6 267.6L744.7 266.2L750.7 266.8L752.4 268.4L747.1 270.4L737.6 271.0Z M655.5 297.0L655.0 298.4L653.6 299.4L651.7 299.8L649.8 299.4L648.4 298.4L647.9 297.0L648.4 295.5L649.8 294.5L651.7 294.1L653.6 294.5L655.0 295.5Z M696.6 284.2L698.0 280.0L700.7 276.3L704.4 273.1L709.1 270.8L715.6 269.4L721.1 269.9L724.8 272.2L726.9 275.4L726.7 280.0L725.9 285.6L724.8 289.3L722.2 292.3L720.2 295.3L718.8 298.1L716.5 299.9L712.8 303.6L709.1 307.4L707.2 311.1L706.3 314.3L706.9 313.6L706.7 315.8L705.6 317.4L703.9 319.1L702.2 321.3L699.4 322.7L696.7 323.8L693.3 324.4L690.0 325.2L688.3 327.2L686.1 329.1L683.3 330.2L681.1 331.9L678.3 334.1L675.6 334.9L671.1 335.2L667.2 334.7L664.4 334.1L662.4 335.5L660.6 338.3L659.6 342.0L657.8 344.7L655.0 345.7L651.3 343.8L649.4 341.0L649.4 338.3L651.3 335.5L655.9 330.9L660.0 326.3L662.2 324.6L665.6 323.0L668.3 320.8L671.1 320.2L673.9 318.5L676.7 316.3L679.4 314.1L682.2 312.4L685.0 310.8L687.8 308.5L691.5 306.9L695.2 303.6L697.5 300.9L698.0 297.6L699.8 294.9L702.6 292.5L706.3 291.1L710.0 290.2L707.2 288.8L703.5 287.4L698.9 286.5Z M640.2 350.3L643.0 347.1L646.7 345.2L651.3 344.7L655.0 345.7L658.7 347.5L661.5 350.3L660.6 353.1L656.9 354.5L652.2 354.0L646.7 353.5L642.0 352.6L639.7 351.2Z M613.3 357.6L615.7 354.6L619.3 352.8L624.0 350.4L628.1 351.6L632.3 354.6L631.1 356.4L626.4 356.4L621.6 357.0L618.1 359.3L614.5 359.7Z M581.3 367.6L583.1 364.7L588.4 363.5L594.4 362.9L600.3 362.3L606.2 361.7L609.8 360.5L614.5 361.1L616.9 364.1L615.1 367.6L611.0 369.4L606.2 370.6L600.3 371.2L594.4 371.8L588.4 370.8L583.7 370.0Z" fill="#90ff90" stroke="#90ff90" stroke-width="0.6" stroke-linejoin="round"/>
<path d="M794.8 187.8L800.7 186.3L804.4 188.2L803.0 190.7L797.0 191.5L794.8 190.0Z M698.9 283.3L699.8 280.0L703.5 276.8L708.1 274.0L713.7 272.2L719.3 271.7L721.6 273.6L722.0 277.3L721.6 281.9L720.6 285.6L719.3 287.9L715.6 287.9L711.9 287.0L707.2 286.1L701.7 285.6L698.9 284.2Z M709.1 290.7L713.2 289.5L715.6 287.4L721.6 286.5L722.2 291.6L720.6 294.9L718.8 297.8L716.0 299.9L712.3 303.6L708.9 307.4L707.0 310.8L706.1 314.1L704.4 316.3L703.3 318.6L701.1 319.9L698.9 321.1L696.1 322.2L693.3 322.7L690.6 323.6L688.3 324.9L686.7 326.9L684.4 328.8L682.2 329.4L678.9 329.7L677.8 331.9L676.1 333.3L673.3 333.6L671.1 332.4L668.3 331.3L665.6 330.8L662.8 330.2L660.0 330.2L658.9 329.7L661.1 329.1L663.3 326.9L666.1 325.2L667.2 323.0L671.1 322.4L673.3 322.2L675.6 319.9L678.3 317.7L681.1 316.3L683.3 315.2L685.6 313.6L687.8 311.6L690.0 310.5L693.3 309.4L695.6 308.0L697.2 307.2L698.4 307.4L698.9 302.7L701.2 299.5L702.6 295.8L705.4 293.0Z M643.0 350.3L644.8 347.5L648.5 346.1L653.1 346.1L656.4 348.0L659.6 349.8L660.1 352.1L656.9 353.5L653.1 353.1L648.5 353.1L644.8 352.1Z M582.5 367.6L584.3 365.3L589.0 364.7L595.6 365.3L601.5 364.7L606.2 364.1L609.8 362.3L613.9 362.9L615.7 364.7L613.3 367.6L608.6 368.8L602.7 369.4L596.7 370.0L589.6 369.6L584.9 369.4Z M622.3 354.8L622.1 355.5L621.5 356.1L620.7 356.3L619.9 356.1L619.2 355.5L619.0 354.8L619.2 354.1L619.9 353.6L620.7 353.4L621.5 353.6L622.1 354.1Z" fill="#66ffff" stroke="#66ffff" stroke-width="0.6" stroke-linejoin="round"/>
<path d="M703.1 281.9L704.4 280.0L707.2 280.0L710.0 282.4L710.5 284.7L708.1 285.6L704.4 285.1Z M714.2 284.5L715.6 281.4L717.9 284.7Z M706.8 295.3L708.1 292.5L711.4 291.1L716.5 291.1L719.7 293.0L719.7 295.8L717.9 297.6L714.6 299.0L710.9 298.6L708.1 297.2Z M697.0 306.9L699.8 305.0L703.5 303.6L707.2 303.2L707.7 305.0L705.4 307.4L701.7 308.3L698.9 308.7Z M695.6 311.7L697.0 310.1L698.1 312.4Z M646.2 349.4L648.1 347.1L652.2 346.8L654.1 348.4L653.1 350.3L649.9 351.7L647.1 350.8Z M588.1 367.3L587.7 367.9L586.8 368.4L585.5 368.6L584.2 368.4L583.2 367.9L582.9 367.3L583.2 366.6L584.2 366.1L585.5 366.0L586.8 366.1L587.7 366.6Z M596.9 367.3L596.6 367.8L595.9 368.2L595.0 368.3L594.0 368.2L593.3 367.8L593.1 367.3L593.3 366.7L594.0 366.4L595.0 366.2L595.9 366.4L596.6 366.7Z M602.0 367.3L601.8 367.6L601.4 367.9L600.9 368.0L600.4 367.9L600.0 367.6L599.8 367.3L600.0 366.9L600.4 366.7L600.9 366.6L601.4 366.7L601.8 366.9Z M615.1 364.3L614.6 365.4L613.3 366.3L611.6 366.6L609.8 366.3L608.5 365.4L608.0 364.3L608.5 363.2L609.8 362.4L611.6 362.1L613.3 362.4L614.6 363.2Z M667.2 325.2L671.1 324.7L671.9 326.3L673.9 328.0L676.7 329.1L676.4 331.9L673.3 332.4L673.1 330.2L671.1 328.6L667.8 328.0Z M663.1 328.3L666.7 328.1L666.8 329.6L663.2 329.7Z M695.0 312.3L696.4 310.2L698.1 312.4Z" fill="#00c3ff" stroke="#00c3ff" stroke-width="0.6" stroke-linejoin="round"/>
<path d="M673.9 325.8L676.1 323.6L678.3 321.3L681.1 319.9L683.9 319.1L686.1 316.9L688.9 315.2L691.7 314.4L695.6 313.8L698.9 313.8L701.4 315.2L702.5 316.6L701.1 317.7L698.9 318.8L696.7 319.9L694.4 321.1L691.7 321.6L688.9 322.4L686.7 323.8L685.6 325.8L683.9 327.2L681.1 327.7L677.8 327.4L675.0 326.9Z" fill="#00c3ff" stroke="#00c3ff" stroke-width="3.2" stroke-linejoin="round"/>
<path d="M709.5 294.9L710.9 292.5L714.2 291.6L717.4 292.5L718.3 294.9L716.5 297.2L713.2 298.1L710.5 297.2Z M613.8 364.1L613.5 364.7L612.7 365.2L611.6 365.4L610.4 365.2L609.6 364.7L609.3 364.1L609.6 363.4L610.4 362.9L611.6 362.8L612.7 362.9L613.5 363.4Z" fill="#0064ff" stroke="#0064ff" stroke-width="0.6" stroke-linejoin="round"/>
<path d="M673.9 325.8L676.1 323.6L678.3 321.3L681.1 319.9L683.9 319.1L686.1 316.9L688.9 315.2L691.7 314.4L695.6 313.8L698.9 313.8L701.4 315.2L702.5 316.6L701.1 317.7L698.9 318.8L696.7 319.9L694.4 321.1L691.7 321.6L688.9 322.4L686.7 323.8L685.6 325.8L683.9 327.2L681.1 327.7L677.8 327.4L675.0 326.9Z" fill="#0064ff" stroke="#0064ff" stroke-width="1.7" stroke-linejoin="round"/>
<path d="M711.9 294.9L712.8 293.4L714.6 293.0L715.8 293.8L715.6 295.5L714.2 296.2L712.4 295.8Z" fill="#9264ff" stroke="#9264ff" stroke-width="0.6" stroke-linejoin="round"/>
<path d="M673.9 325.8L676.1 323.6L678.3 321.3L681.1 319.9L683.9 319.1L686.1 316.9L688.9 315.2L691.7 314.4L695.6 313.8L698.9 313.8L701.4 315.2L702.5 316.6L701.1 317.7L698.9 318.8L696.7 319.9L694.4 321.1L691.7 321.6L688.9 322.4L686.7 323.8L685.6 325.8L683.9 327.2L681.1 327.7L677.8 327.4L675.0 326.9Z" fill="#e166ff" stroke="#e166ff" stroke-width="0.3" stroke-linejoin="round"/>
</g><g transform="translate(469.30,0)"><use href="#coast"/></g></g>
<g stroke="#808080" stroke-opacity="0.5" stroke-width="1" fill="none"><line x1="618.88" y1="32" x2="618.88" y2="414"/><line x1="682.66" y1="32" x2="682.66" y2="414"/><line x1="746.45" y1="32" x2="746.45" y2="414"/><line x1="810.24" y1="32" x2="810.24" y2="414"/><line x1="874.02" y1="32" x2="874.02" y2="414"/><line x1="556.00" y1="349.79" x2="938.00" y2="349.79"/><line x1="556.00" y1="285.95" x2="938.00" y2="285.95"/><line x1="556.00" y1="222.12" x2="938.00" y2="222.12"/><line x1="556.00" y1="158.28" x2="938.00" y2="158.28"/><line x1="556.00" y1="94.45" x2="938.00" y2="94.45"/></g>
<g class="tx"><text y="92.80" font-size="9.90" class="tk"><tspan x="118.91" textLength="9.41" lengthAdjust="spacingAndGlyphs">45</tspan> <tspan x="128.87" textLength="3.44" lengthAdjust="spacingAndGlyphs">°</tspan> <tspan x="132.67" textLength="5.56" lengthAdjust="spacingAndGlyphs">N</tspan></text><text y="156.70" font-size="9.90" class="tk"><tspan x="118.91" textLength="9.40" lengthAdjust="spacingAndGlyphs">40</tspan> <tspan x="128.71" textLength="3.39" lengthAdjust="spacingAndGlyphs">°</tspan> <tspan x="132.45" textLength="5.47" lengthAdjust="spacingAndGlyphs">N</tspan></text><text y="219.85" font-size="9.90" class="tk"><tspan x="118.88" textLength="9.37" lengthAdjust="spacingAndGlyphs">35</tspan> <tspan x="128.81" textLength="3.46" lengthAdjust="spacingAndGlyphs">°</tspan> <tspan x="132.64" textLength="5.59" lengthAdjust="spacingAndGlyphs">N</tspan></text><text y="283.80" font-size="9.90" class="tk"><tspan x="119.88" textLength="9.31" lengthAdjust="spacingAndGlyphs">30</tspan> <tspan x="129.60" textLength="3.39" lengthAdjust="spacingAndGlyphs">°</tspan> <tspan x="133.35" textLength="5.47" lengthAdjust="spacingAndGlyphs">N</tspan></text><text y="347.60" font-size="9.90" class="tk"><tspan x="118.87" textLength="9.55" lengthAdjust="spacingAndGlyphs">25</tspan> <tspan x="128.98" textLength="3.48" lengthAdjust="spacingAndGlyphs">°</tspan> <tspan x="132.82" textLength="5.62" lengthAdjust="spacingAndGlyphs">N</tspan></text><text y="388.80" font-size="9.90" class="tk"><tspan x="142.12" textLength="14.39" lengthAdjust="spacingAndGlyphs">125</tspan> <tspan x="157.07" textLength="3.45" lengthAdjust="spacingAndGlyphs">°</tspan> <tspan x="160.95" textLength="4.52" lengthAdjust="spacingAndGlyphs">E</tspan></text><text y="388.80" font-size="9.90" class="tk"><tspan x="206.38" textLength="13.96" lengthAdjust="spacingAndGlyphs">130</tspan> <tspan x="220.73" textLength="3.31" lengthAdjust="spacingAndGlyphs">°</tspan> <tspan x="224.46" textLength="4.34" lengthAdjust="spacingAndGlyphs">E</tspan></text><text y="388.80" font-size="9.90" class="tk"><tspan x="270.17" textLength="13.81" lengthAdjust="spacingAndGlyphs">135</tspan> <tspan x="284.51" textLength="3.31" lengthAdjust="spacingAndGlyphs">°</tspan> <tspan x="288.24" textLength="4.34" lengthAdjust="spacingAndGlyphs">E</tspan></text><text y="388.80" font-size="9.90" class="tk"><tspan x="333.95" textLength="13.96" lengthAdjust="spacingAndGlyphs">140</tspan> <tspan x="348.30" textLength="3.31" lengthAdjust="spacingAndGlyphs">°</tspan> <tspan x="352.03" textLength="4.34" lengthAdjust="spacingAndGlyphs">E</tspan></text><text y="388.80" font-size="9.90" class="tk"><tspan x="397.74" textLength="13.81" lengthAdjust="spacingAndGlyphs">145</tspan> <tspan x="412.08" textLength="3.31" lengthAdjust="spacingAndGlyphs">°</tspan> <tspan x="415.81" textLength="4.34" lengthAdjust="spacingAndGlyphs">E</tspan></text><text y="92.80" font-size="9.90" class="tk"><tspan x="588.91" textLength="9.41" lengthAdjust="spacingAndGlyphs">45</tspan> <tspan x="598.87" textLength="3.44" lengthAdjust="spacingAndGlyphs">°</tspan> <tspan x="602.67" textLength="5.56" lengthAdjust="spacingAndGlyphs">N</tspan></text><text y="156.70" font-size="9.90" class="tk"><tspan x="588.91" textLength="9.40" lengthAdjust="spacingAndGlyphs">40</tspan> <tspan x="598.71" textLength="3.39" lengthAdjust="spacingAndGlyphs">°</tspan> <tspan x="602.45" textLength="5.47" lengthAdjust="spacingAndGlyphs">N</tspan></text><text y="219.85" font-size="9.90" class="tk"><tspan x="588.88" textLength="9.37" lengthAdjust="spacingAndGlyphs">35</tspan> <tspan x="598.81" textLength="3.46" lengthAdjust="spacingAndGlyphs">°</tspan> <tspan x="602.64" textLength="5.59" lengthAdjust="spacingAndGlyphs">N</tspan></text><text y="283.80" font-size="9.90" class="tk"><tspan x="589.88" textLength="9.31" lengthAdjust="spacingAndGlyphs">30</tspan> <tspan x="599.60" textLength="3.39" lengthAdjust="spacingAndGlyphs">°</tspan> <tspan x="603.35" textLength="5.47" lengthAdjust="spacingAndGlyphs">N</tspan></text><text y="347.60" font-size="9.90" class="tk"><tspan x="588.87" textLength="9.55" lengthAdjust="spacingAndGlyphs">25</tspan> <tspan x="598.98" textLength="3.48" lengthAdjust="spacingAndGlyphs">°</tspan> <tspan x="602.82" textLength="5.62" lengthAdjust="spacingAndGlyphs">N</tspan></text><text y="388.80" font-size="9.90" class="tk"><tspan x="611.67" textLength="14.39" lengthAdjust="spacingAndGlyphs">125</tspan> <tspan x="626.62" textLength="3.45" lengthAdjust="spacingAndGlyphs">°</tspan> <tspan x="630.50" textLength="4.52" lengthAdjust="spacingAndGlyphs">E</tspan></text><text y="388.80" font-size="9.90" class="tk"><tspan x="675.93" textLength="13.96" lengthAdjust="spacingAndGlyphs">130</tspan> <tspan x="690.28" textLength="3.31" lengthAdjust="spacingAndGlyphs">°</tspan> <tspan x="694.01" textLength="4.34" lengthAdjust="spacingAndGlyphs">E</tspan></text><text y="388.80" font-size="9.90" class="tk"><tspan x="739.72" textLength="13.81" lengthAdjust="spacingAndGlyphs">135</tspan> <tspan x="754.06" textLength="3.31" lengthAdjust="spacingAndGlyphs">°</tspan> <tspan x="757.79" textLength="4.34" lengthAdjust="spacingAndGlyphs">E</tspan></text>
<rect x="85.5" y="31.5" width="383" height="383" fill="none" stroke="#000" stroke-width="1"/>
<rect x="555.5" y="31.5" width="383" height="383" fill="none" stroke="#000" stroke-width="1"/>
<text y="25.70" font-size="12.70"><tspan x="137.50" textLength="110.05" lengthAdjust="spacingAndGlyphs">GSMAP_MWR_1HR</tspan> <tspan x="251.21" textLength="59.29" lengthAdjust="spacingAndGlyphs">estimates</tspan> <tspan x="315.01" textLength="15.92" lengthAdjust="spacingAndGlyphs">for</tspan> <tspan x="334.50" textLength="61.57" lengthAdjust="spacingAndGlyphs">20260131</tspan> <tspan x="399.56" textLength="15.45" lengthAdjust="spacingAndGlyphs">06</tspan></text>
<text y="25.70" font-size="12.70"><tspan x="600.51" textLength="38.42" lengthAdjust="spacingAndGlyphs">Hourly</tspan> <tspan x="643.76" textLength="91.23" lengthAdjust="spacingAndGlyphs">Radar-AMeDAS</tspan> <tspan x="739.02" textLength="49.17" lengthAdjust="spacingAndGlyphs">analysis</tspan> <tspan x="792.42" textLength="14.79" lengthAdjust="spacingAndGlyphs">for</tspan> <tspan x="812.22" textLength="60.34" lengthAdjust="spacingAndGlyphs">20260131</tspan> <tspan x="877.26" textLength="15.24" lengthAdjust="spacingAndGlyphs">06</tspan></text>
<text y="406.60" font-size="10.60"><tspan x="560.78" textLength="43.53" lengthAdjust="spacingAndGlyphs">Provided</tspan> <tspan x="607.87" textLength="11.80" lengthAdjust="spacingAndGlyphs">by</tspan> <tspan x="622.46" textLength="42.07" lengthAdjust="spacingAndGlyphs">JWA/JMA</tspan></text>
<text y="419.20" font-size="11.65"><tspan x="1001.45" textLength="6.45" lengthAdjust="spacingAndGlyphs">0</tspan></text><text y="382.70" font-size="11.65"><tspan x="1001.42" textLength="23.83" lengthAdjust="spacingAndGlyphs">0.01</tspan></text><text y="346.20" font-size="11.65"><tspan x="1001.43" textLength="16.79" lengthAdjust="spacingAndGlyphs">0.5</tspan></text><text y="309.70" font-size="11.65"><tspan x="1001.06" textLength="6.16" lengthAdjust="spacingAndGlyphs">1</tspan></text><text y="273.20" font-size="11.65"><tspan x="1001.34" textLength="6.22" lengthAdjust="spacingAndGlyphs">2</tspan></text><text y="236.70" font-size="11.65"><tspan x="1001.48" textLength="6.19" lengthAdjust="spacingAndGlyphs">3</tspan></text><text y="200.20" font-size="11.65"><tspan x="1001.63" textLength="6.45" lengthAdjust="spacingAndGlyphs">4</tspan></text><text y="163.70" font-size="11.65"><tspan x="1001.46" textLength="6.09" lengthAdjust="spacingAndGlyphs">5</tspan></text><text y="127.20" font-size="11.65"><tspan x="1000.98" textLength="13.45" lengthAdjust="spacingAndGlyphs">10</tspan></text><text y="90.70" font-size="11.65"><tspan x="1001.30" textLength="13.34" lengthAdjust="spacingAndGlyphs">25</tspan></text><text y="54.20" font-size="11.65"><tspan x="1001.42" textLength="13.37" lengthAdjust="spacingAndGlyphs">50</tspan></text>
<text y="453.90" font-size="10.60"><tspan x="459.93" textLength="50.07" lengthAdjust="spacingAndGlyphs">Validation</tspan> <tspan x="513.51" textLength="44.33" lengthAdjust="spacingAndGlyphs">statistics</tspan> <tspan x="561.15" textLength="13.90" lengthAdjust="spacingAndGlyphs">for</tspan> <tspan x="578.20" textLength="50.42" lengthAdjust="spacingAndGlyphs">20260131</tspan> <tspan x="632.39" textLength="12.37" lengthAdjust="spacingAndGlyphs">06</tspan> <tspan x="651.36" textLength="20.82" lengthAdjust="spacingAndGlyphs">n=0</tspan> <tspan x="675.58" textLength="27.99" lengthAdjust="spacingAndGlyphs">Valid.</tspan> <tspan x="706.86" textLength="55.00" lengthAdjust="spacingAndGlyphs">grid=0.25°</tspan> <tspan x="765.24" textLength="70.53" lengthAdjust="spacingAndGlyphs">Units=mm/hr.</tspan></text></g>
<rect x="972.30" y="377.30" width="21.10" height="36.90" fill="#ffe5b4"/><rect x="972.30" y="340.80" width="21.10" height="36.90" fill="#d9ffc0"/><rect x="972.30" y="304.30" width="21.10" height="36.90" fill="#90ff90"/><rect x="972.30" y="267.80" width="21.10" height="36.90" fill="#66ffff"/><rect x="972.30" y="231.30" width="21.10" height="36.90" fill="#00c3ff"/><rect x="972.30" y="194.80" width="21.10" height="36.90" fill="#0064ff"/><rect x="972.30" y="158.30" width="21.10" height="36.90" fill="#9264ff"/><rect x="972.30" y="121.80" width="21.10" height="36.90" fill="#e166ff"/><rect x="972.30" y="85.30" width="21.10" height="36.90" fill="#ff00ff"/><rect x="972.30" y="48.80" width="21.10" height="36.90" fill="#cf9a40"/><path d="M972.30 49.00L982.85 30.60L993.40 49.00Z" fill="#000"/><path d="M972.30 414.00L972.30 49.00L982.85 30.60L993.40 49.00L993.40 414.00Z" fill="none" stroke="#000" stroke-width="0.9"/><line x1="994.30" y1="414.40" x2="998.40" y2="414.40" stroke="#000" stroke-width="0.9"/><line x1="994.30" y1="377.90" x2="998.40" y2="377.90" stroke="#000" stroke-width="0.9"/><line x1="994.30" y1="341.40" x2="998.40" y2="341.40" stroke="#000" stroke-width="0.9"/><line x1="994.30" y1="304.90" x2="998.40" y2="304.90" stroke="#000" stroke-width="0.9"/><line x1="994.30" y1="268.40" x2="998.40" y2="268.40" stroke="#000" stroke-width="0.9"/><line x1="994.30" y1="231.90" x2="998.40" y2="231.90" stroke="#000" stroke-width="0.9"/><line x1="994.30" y1="195.40" x2="998.40" y2="195.40" stroke="#000" stroke-width="0.9"/><line x1="994.30" y1="158.90" x2="998.40" y2="158.90" stroke="#000" stroke-width="0.9"/><line x1="994.30" y1="122.40" x2="998.40" y2="122.40" stroke="#000" stroke-width="0.9"/><line x1="994.30" y1="85.90" x2="998.40" y2="85.90" stroke="#000" stroke-width="0.9"/><line x1="994.30" y1="49.40" x2="998.40" y2="49.40" stroke="#000" stroke-width="0.9"/>
<line x1="457.0" y1="457.4" x2="997" y2="457.4" stroke="#000" stroke-width="1" stroke-dasharray="3.7 1.67"/>
</svg>
</body></html>
